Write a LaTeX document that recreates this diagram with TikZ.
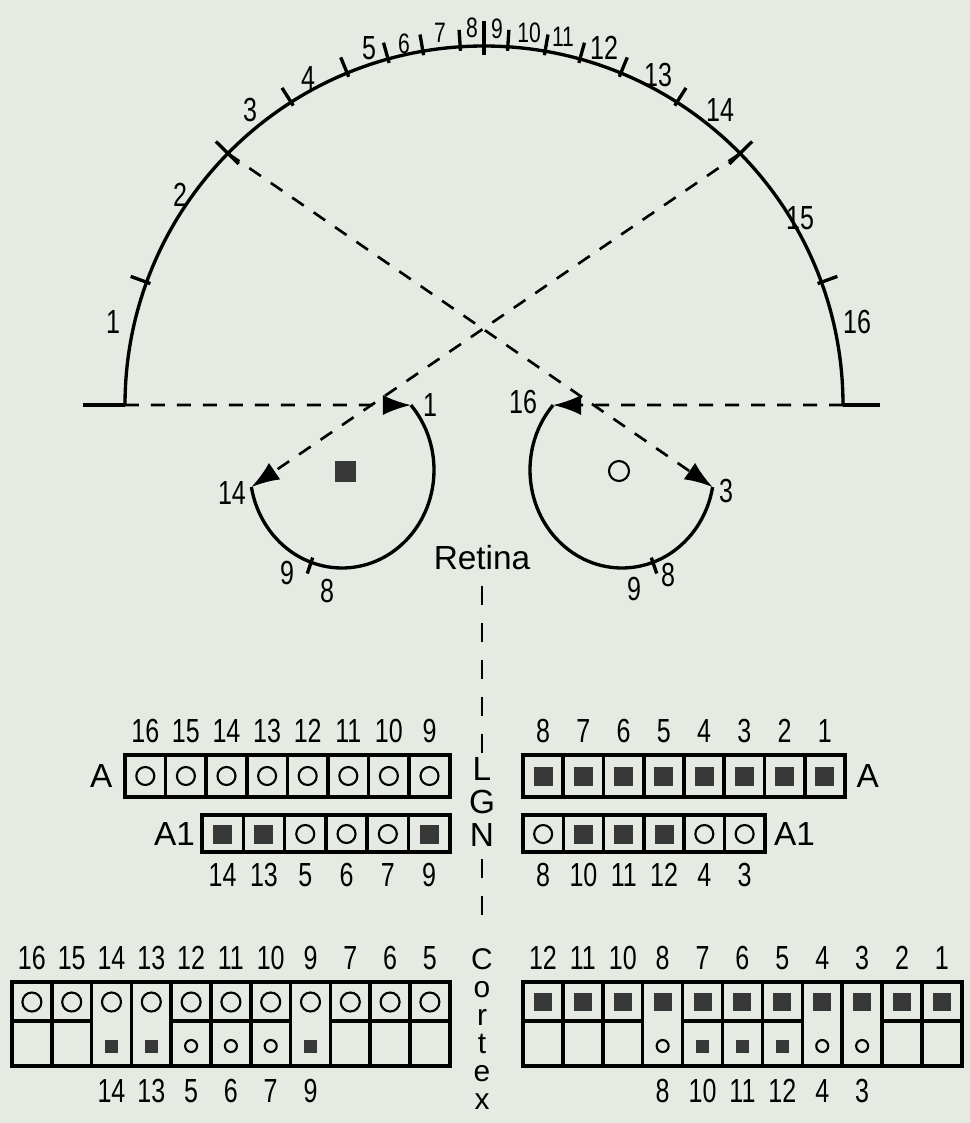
\documentclass[tikz,border=0pt]{standalone}
\usepackage{fontspec}
\setmainfont{Liberation Sans}
\newfontfamily\digs{Liberation Sans}[FakeStretch=0.75]
\usetikzlibrary{arrows.meta,positioning,calc}
\definecolor{paper}{RGB}{229,234,227}
\tikzset{
  num/.style = {font=\digs\fontsize{19}{19}\selectfont, inner sep=0pt},
  tnum/.style = {font=\digs\fontsize{16}{16}\selectfont, inner sep=0pt},
  word/.style = {font=\fontsize{19}{19}\selectfont, inner sep=0pt},
  cell/.style = {draw, line width=2pt},
  ring/.style = {draw, circle, line width=1.2pt, minimum size=0.36cm, inner sep=0pt},
  blob/.style = {fill=black!78, minimum size=0.38cm, inner sep=0pt},
  sring/.style = {ring, minimum size=0.24cm},
  sblob/.style = {blob, minimum size=0.26cm},
  rim/.style = {line width=1.9pt},
  sight/.style = {line width=1.5pt, dash pattern=on 0.28cm off 0.24cm},
  stalk/.style = {line width=1.3pt, dash pattern=on 0.38cm off 0.36cm},
  arrow/.style = {sight, -{Latex[length=0.56cm,width=0.4cm]}}
}
\begin{document}
\begin{tikzpicture}[x=0.02cm, y=-0.02cm]
\fill[paper] (0,0) rectangle (970,1123);
\useasboundingbox (0,0) rectangle (970,1123);

% visual field
\coordinate (c) at (484,405);
\coordinate (lb) at (125,405);
\coordinate (rb) at (843,405);
\draw[line width=2.4pt] (83,405) -- (lb);
\draw[line width=2.4pt] (rb) -- (880,405);
\draw[rim] (lb) arc[start angle=180, end angle=360, radius=359];
\foreach \a in {160,122.5,112.4,105.5,99.8,93.8,86.2,80.2,74.5,67.6,57.5,20}
  \draw[rim] ($(c)+(-\a:355)$) -- ($(c)+(-\a:376)$);
\draw[rim] ($(c)+(-90:350)$) -- ($(c)+(-90:384)$);
\coordinate (t3) at ($(c)+(-135.5:359)$);
\coordinate (t14) at ($(c)+(-44.5:359)$);
\draw[rim] ($(c)+(-135.5:344)$) -- ($(c)+(-135.5:376)$);
\draw[rim] ($(c)+(-44.5:344)$) -- ($(c)+(-44.5:376)$);
\foreach \n/\x/\y in {1/113/322,2/180/195,3/250/110,4/308/78,5/369/48,12/604/48,13/658/75,14/720/110,15/800/218,16/857/322}
  \node[num] (f\n) at (\x,\y) {\n};
\foreach \n/\x/\y in {6/404/44,7/440/33,8/472/28,9/497/29,10/529/33,11/563/37}
  \node[tnum] (f\n) at (\x,\y) {\n};

% retinae
\coordinate (le) at (342,470);
\coordinate (l1) at ($(le)+(-41.5:92 and 98)$);
\coordinate (l14) at ($(le)+(170:92 and 98)$);
\draw[rim] (l1) arc[start angle=-41.5, end angle=170, x radius=92, y radius=98];
\draw[rim] ($(le)+(109.7:87 and 93)$) -- ($(le)+(109.7:103 and 110)$);
\node[blob, minimum size=0.42cm] (fovl) at (345,471) {};
\coordinate (re) at (622,470);
\coordinate (r16) at ($(re)+(221.5:92 and 98)$);
\coordinate (r3) at ($(re)+(10:92 and 98)$);
\draw[rim] (r16) arc[start angle=221.5, end angle=10, x radius=92, y radius=98];
\draw[rim] ($(re)+(70.3:87 and 93)$) -- ($(re)+(70.3:103 and 110)$);
\node[ring, minimum size=0.4cm] (fovr) at (619,471) {};
\node[num] (e1) at (430,405) {1};
\node[num] (e16) at (523,402) {16};
\node[num] (e14) at (232,493) {14};
\node[num] (e3) at (726,491) {3};
\node[num] (el9) at (287,573) {9};
\node[num] (el8) at (327,591) {8};
\node[num] (er9) at (634,589) {9};
\node[num] (er8) at (668,575) {8};

\draw[arrow] (lb) -- (l1);
\draw[arrow] (rb) -- (r16);
\draw[arrow] (t3) -- (r3);
\draw[arrow] (t14) -- (l14);

% pathway
\node[word] (retina) at (482,558) {Retina};
\node[word] (L) at (482,769) {L};
\node[word] (G) at (482,802) {G};
\node[word] (N) at (482,835) {N};
\node[word, font=\fontsize{17}{16}\selectfont, align=center, anchor=north] (cortex) at (482,948) {C\\o\\r\\t\\e\\x};
\draw[stalk, shorten <=0.3cm] (retina.south) -- (L.north);
\draw[stalk, shorten <=0.25cm, shorten >=0.45cm] (N.south) -- (cortex.north);

% LGN
\foreach \n [count=\i] in {16,15,14,13,12,11,10,9} {
  \draw[cell] ({125+40.6*(\i-1)},755) rectangle +(40.6,42);
  \node[num] (gla\i) at ({125+40.6*(\i-0.5)},731) {\n};
  \node[ring] (glm\i) at ({125+40.6*(\i-0.5)},776) {};
}
\node[word, left=0.45cm of glm1] (glA) {A};
\foreach \n/\m [count=\i] in {14/blob,13/blob,5/ring,6/ring,7/ring,9/blob} {
  \draw[cell] ({202+41.3*(\i-1)},815) rectangle +(41.3,37);
  \node[\m] (glb\i) at ({202+41.3*(\i-0.5)},834) {};
  \node[num] (glc\i) at ({202+41.3*(\i-0.5)},875) {\n};
}
\node[word, left=0.35cm of glb1] (glA1) {A1};
\foreach \n [count=\i] in {8,7,6,5,4,3,2,1} {
  \draw[cell] ({523+40.25*(\i-1)},755) rectangle +(40.25,42);
  \node[num] (gra\i) at ({523+40.25*(\i-0.5)},731) {\n};
  \node[blob] (grm\i) at ({523+40.25*(\i-0.5)},776) {};
}
\node[word, right=0.43cm of grm8] (grA) {A};
\foreach \n/\m [count=\i] in {8/ring,10/blob,11/blob,12/blob,4/ring,3/ring} {
  \draw[cell] ({523+40.3*(\i-1)},815) rectangle +(40.3,37);
  \node[\m] (grb\i) at ({523+40.3*(\i-0.5)},834) {};
  \node[num] (grc\i) at ({523+40.3*(\i-0.5)},875) {\n};
}
\node[word, right=0.38cm of grb6] (grA1) {A1};

% cortex
\foreach \n/\mg [count=\i] in {16/0,15/0,14/1,13/1,12/0,11/0,10/0,9/1,7/0,6/0,5/0} {
  \draw[cell] ({12+39.8*(\i-1)},982) rectangle +(39.8,84);
  \ifnum\mg=0 \draw[cell] ({12+39.8*(\i-1)},1021) -- +(39.8,0); \fi
  \node[num] (cla\i) at ({12+39.8*(\i-0.5)},958) {\n};
  \node[ring, minimum size=0.38cm] (clm\i) at ({12+39.8*(\i-0.5)},1002) {};
}
\foreach \i/\n/\m in {3/14/sblob,4/13/sblob,5/5/sring,6/6/sring,7/7/sring,8/9/sblob} {
  \node[\m] (clb\i) at ({12+39.8*(\i-0.5)},1046) {};
  \node[num] (clc\i) at ({12+39.8*(\i-0.5)},1091) {\n};
}
\foreach \n/\mg [count=\i] in {12/0,11/0,10/0,8/1,7/0,6/0,5/0,4/1,3/1,2/0,1/0} {
  \draw[cell] ({523+39.9*(\i-1)},982) rectangle +(39.9,84);
  \ifnum\mg=0 \draw[cell] ({523+39.9*(\i-1)},1021) -- +(39.9,0); \fi
  \node[num] (cra\i) at ({523+39.9*(\i-0.5)},958) {\n};
  \node[blob, minimum size=0.36cm] (crm\i) at ({523+39.9*(\i-0.5)},1002) {};
}
\foreach \i/\n/\m in {4/8/sring,5/10/sblob,6/11/sblob,7/12/sblob,8/4/sring,9/3/sring} {
  \node[\m] (crb\i) at ({523+39.9*(\i-0.5)},1046) {};
  \node[num] (crc\i) at ({523+39.9*(\i-0.5)},1091) {\n};
}
\end{tikzpicture}
\end{document}
